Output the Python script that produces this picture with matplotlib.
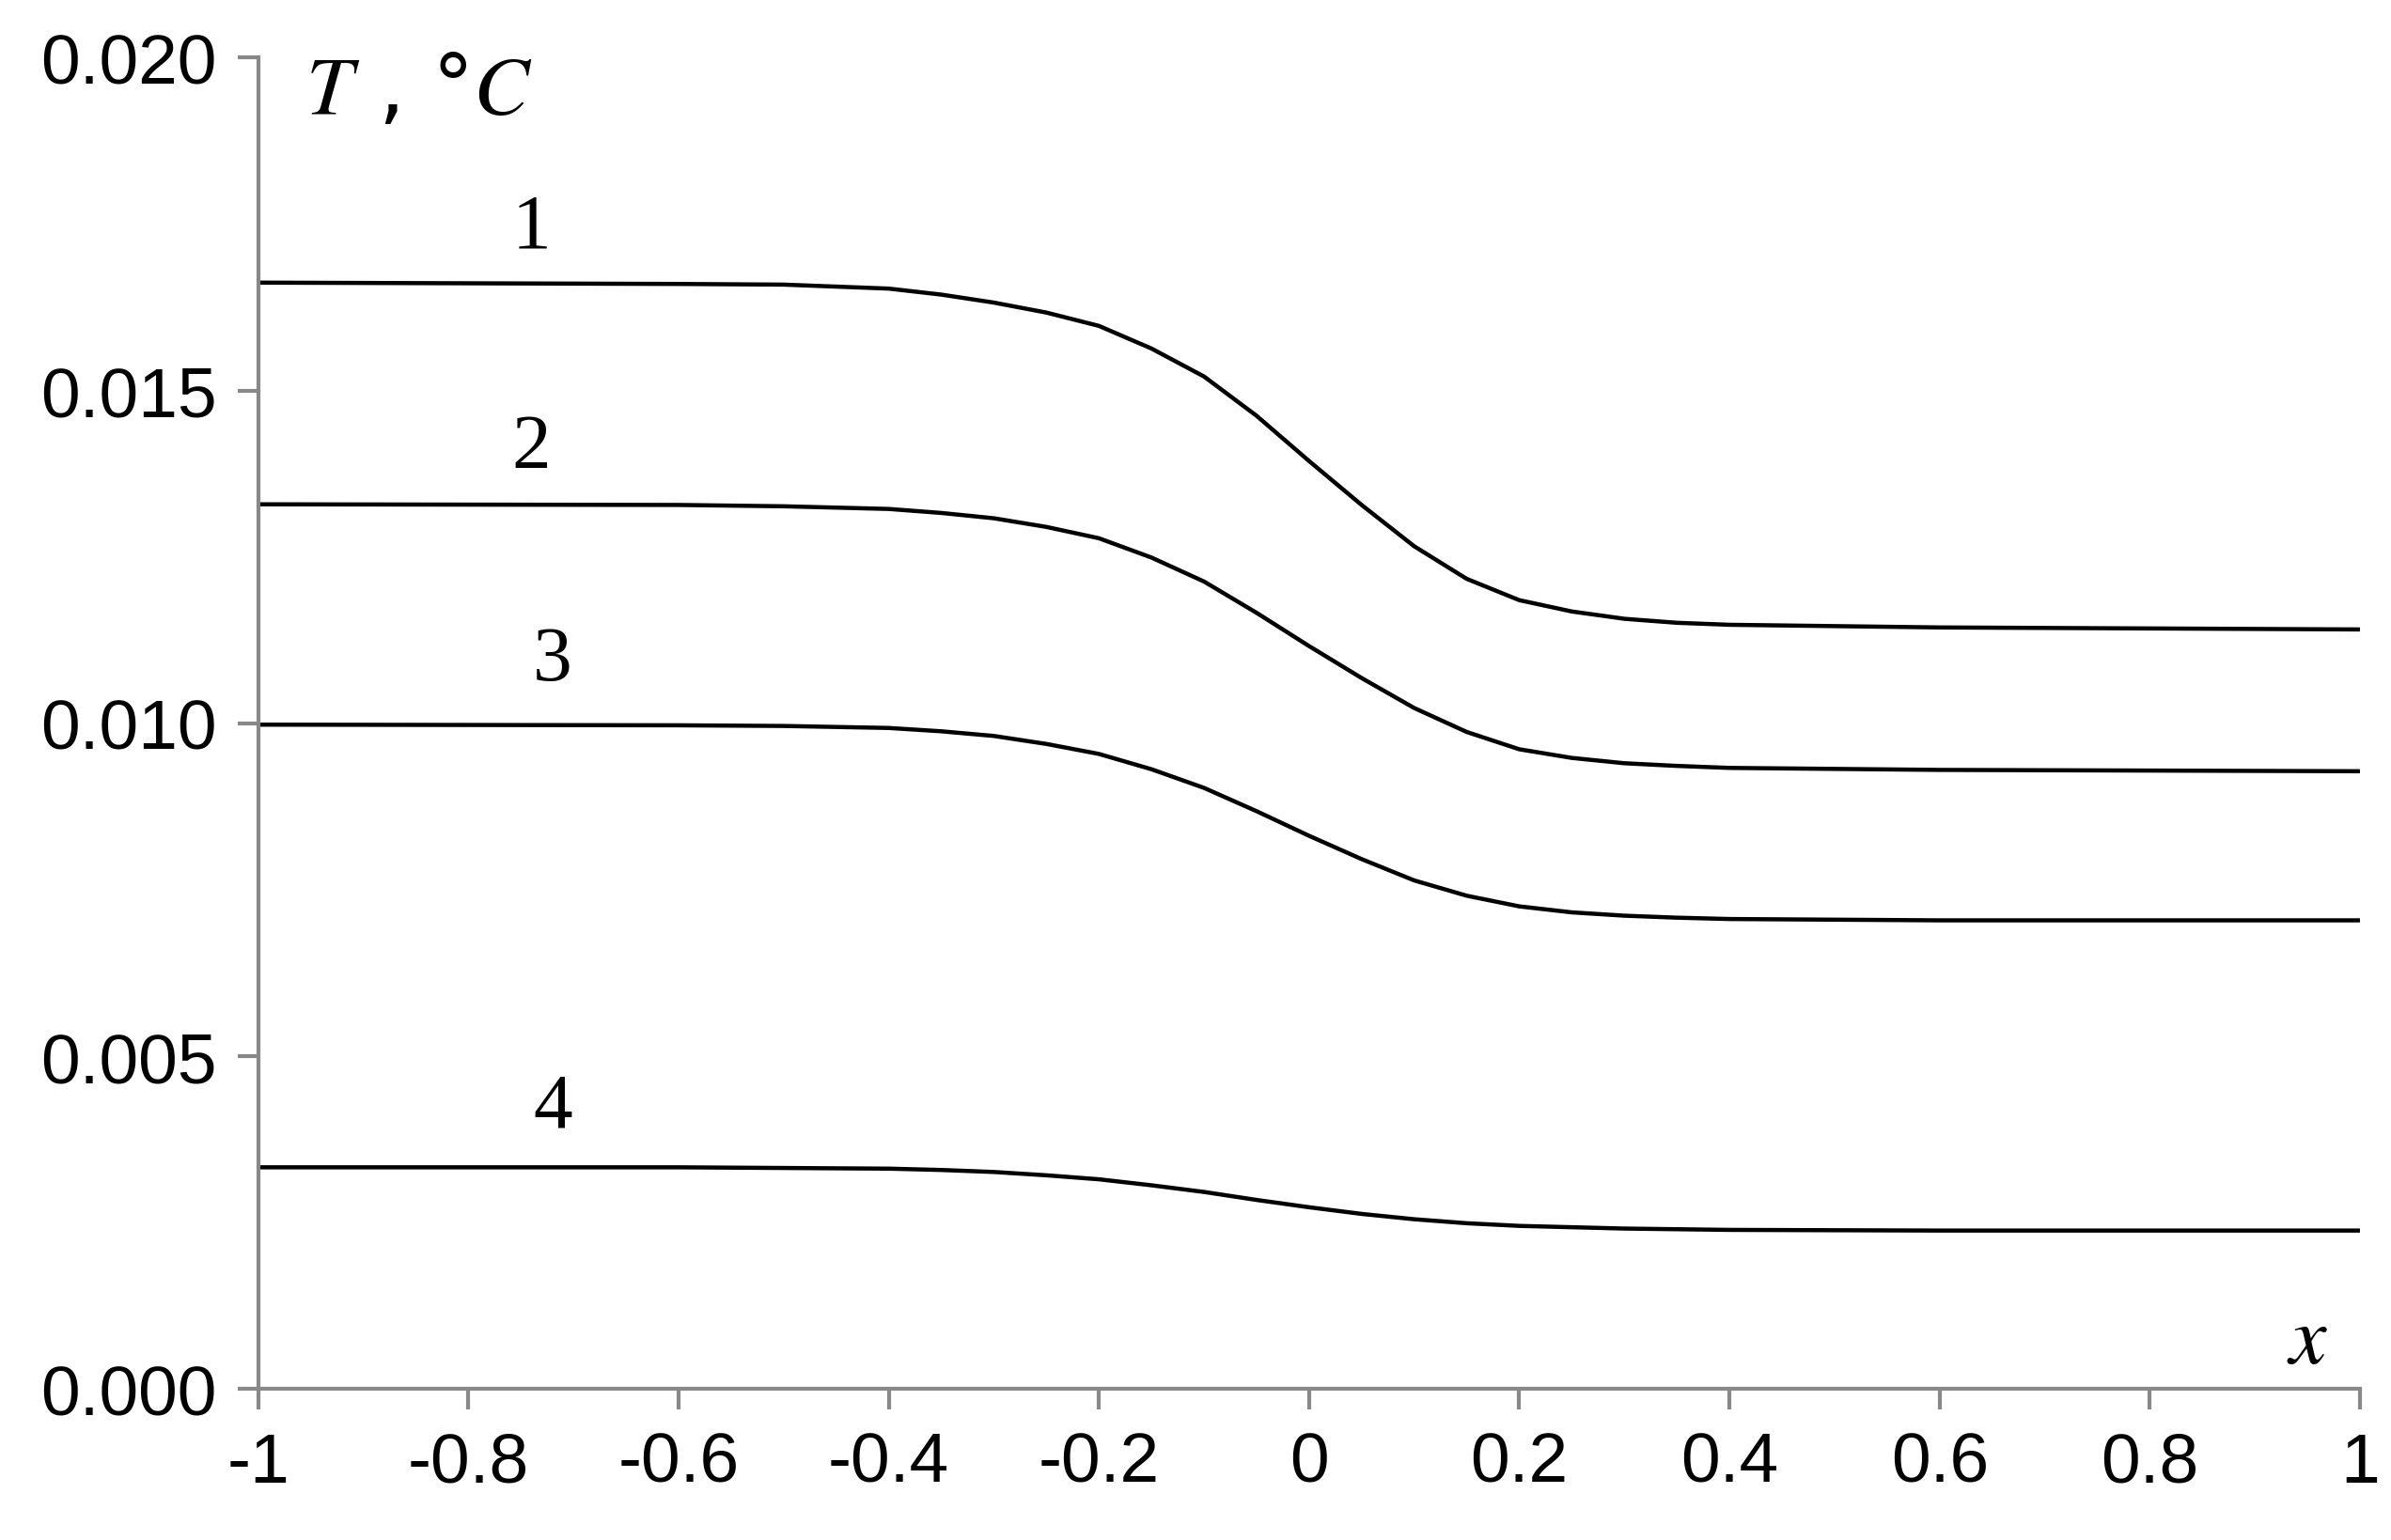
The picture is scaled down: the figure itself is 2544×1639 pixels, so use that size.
import matplotlib
matplotlib.use("Agg")
import matplotlib.pyplot as plt
plt.rcParams['mathtext.fontset'] = 'stix'

x = [-1, -0.6, -0.5, -0.4, -0.35, -0.3, -0.25, -0.2, -0.15, -0.1, -0.05, 0, 0.05, 0.1, 0.15, 0.2, 0.25, 0.3, 0.35, 0.4, 0.6, 1]
T1 = [0.01662, 0.01660, 0.01659, 0.01653, 0.01644, 0.01632, 0.01617, 0.01597, 0.01563, 0.01521, 0.01462, 0.01394, 0.01328, 0.01266, 0.01217, 0.01185, 0.01168, 0.01157, 0.01151, 0.01148, 0.01144, 0.01141]
T2 = [0.01329, 0.01328, 0.01326, 0.01322, 0.01316, 0.01308, 0.01295, 0.01278, 0.01249, 0.01213, 0.01166, 0.01116, 0.01068, 0.01023, 0.00987, 0.00961, 0.00948, 0.00940, 0.00936, 0.00933, 0.00930, 0.00928]
T3 = [0.00998, 0.00997, 0.00996, 0.00993, 0.00988, 0.00981, 0.00969, 0.00954, 0.00931, 0.00903, 0.00868, 0.00831, 0.00796, 0.00764, 0.00741, 0.00725, 0.00716, 0.00711, 0.00708, 0.00706, 0.00704, 0.00704]
T4 = [0.00333, 0.00333, 0.00332, 0.00331, 0.00329, 0.00326, 0.00321, 0.00315, 0.00306, 0.00296, 0.00284, 0.00273, 0.00263, 0.00255, 0.00249, 0.00245, 0.00243, 0.00241, 0.00240, 0.00239, 0.00238, 0.00238]
labels = ["1", "2", "3", "4"]
label_pos = [(-0.74, 0.0169), (-0.74, 0.0136), (-0.72, 0.0104), (-0.72, 0.0037)]
xticks = [-1, -0.8, -0.6, -0.4, -0.2, 0, 0.2, 0.4, 0.6, 0.8, 1]
xticklabels = ["-1", "-0.8", "-0.6", "-0.4", "-0.2", "0", "0.2", "0.4", "0.6", "0.8", "1"]
yticks = [0.0, 0.005, 0.010, 0.015, 0.020]
yticklabels = ["0.000", "0.005", "0.010", "0.015", "0.020"]

fig = plt.figure(figsize=(25.44, 16.4), dpi=100)
ax = fig.add_axes([0.108, 0.098, 0.879, 0.864])
for T in (T1, T2, T3, T4):
    ax.plot(x, T, color="black", lw=3.2, solid_joinstyle="round", solid_capstyle="butt")
for lab, (lx, ly) in zip(labels, label_pos):
    ax.text(lx, ly, lab, family="Liberation Serif", fontsize=60, ha="center", va="bottom")
ax.set_xlim(-1, 1)
ax.set_ylim(0, 0.02)
ax.set_xticks(xticks)
ax.set_xticklabels(xticklabels)
ax.set_yticks(yticks)
ax.set_yticklabels(yticklabels)
for s in ("top", "right"):
    ax.spines[s].set_visible(False)
for s in ("left", "bottom"):
    ax.spines[s].set_color("#888888")
    ax.spines[s].set_linewidth(3)
ax.tick_params(direction="out", length=16, width=3, color="#888888", labelsize=54, pad=16)
for t in ax.get_xticklabels() + ax.get_yticklabels():
    t.set_family("Liberation Sans")
ax.text(-0.955, 0.0195, "$T$ , °$C$", fontsize=64, va="center", ha="left")
ax.text(0.95, 0.0004, "$x$", fontsize=64, ha="center")
fig.savefig("out.png", dpi=100, facecolor="white")
